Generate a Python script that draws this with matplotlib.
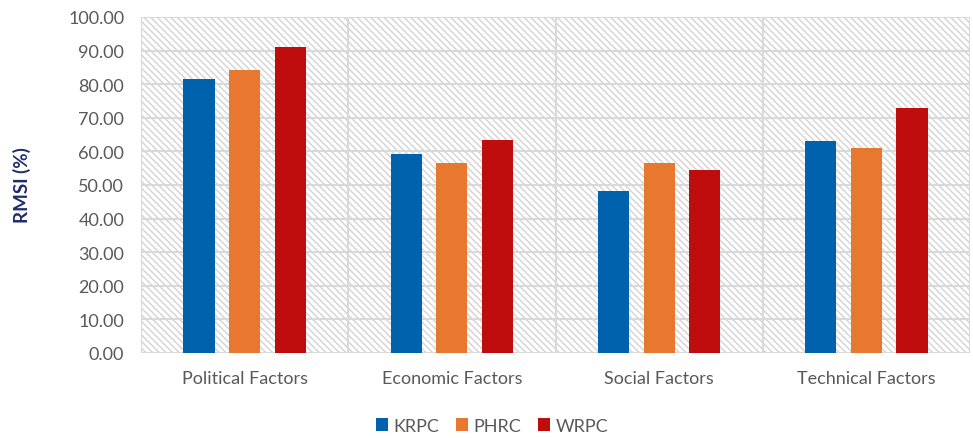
import matplotlib as mpl
mpl.use("Agg")
import matplotlib.pyplot as plt
import numpy as np
from matplotlib.patches import Rectangle

# ---- data ----
CATEGORIES = ["Political Factors", "Economic Factors", "Social Factors", "Technical Factors"]
SERIES = ["KRPC", "PHRC", "WRPC"]
KRPC = [81.5, 59.2, 48.2, 63.1]
PHRC = [84.2, 56.4, 56.5, 61.0]
WRPC = [91.1, 63.5, 54.6, 72.9]
Y_TICKS = [0, 10, 20, 30, 40, 50, 60, 70, 80, 90, 100]

# ---- style ----
COLORS = ["#0062ad", "#e87830", "#bf0d0d"]
GRID_COLOR = "#d9d9d9"
HATCH_COLOR = "#d6d6d6"
TEXT_COLOR = "#595959"
LABEL_COLOR = "#1f2d6b"
BAR_WIDTH = 0.15
BAR_STEP = 0.22
FONT = ["Lato", "DejaVu Sans"]

mpl.rcParams["font.family"] = FONT
mpl.rcParams["hatch.color"] = HATCH_COLOR
mpl.rcParams["hatch.linewidth"] = 1.1

fig = plt.figure(figsize=(9.73, 4.39), dpi=100)
ax = fig.add_axes([141 / 973, 1 - 354 / 439, 829 / 973, 336 / 439])

# hatched background of the plot area
bg = Rectangle((0, 0), 1, 1, transform=ax.transAxes, facecolor="white",
               edgecolor=HATCH_COLOR, linewidth=0, hatch="\\" * 5, zorder=0)
ax.add_patch(bg)

x = np.arange(len(CATEGORIES))
for i, (name, vals) in enumerate(zip(SERIES, [KRPC, PHRC, WRPC])):
    ax.bar(x + (i - 1) * BAR_STEP, vals, width=BAR_WIDTH, color=COLORS[i],
           label=name, zorder=3)

ax.set_xlim(-0.5, len(CATEGORIES) - 0.5)
ax.set_ylim(0, 100)
ax.set_yticks(Y_TICKS)
ax.set_yticklabels([f"{v:.2f}" for v in Y_TICKS])
ax.set_xticks(x)
ax.set_xticklabels(CATEGORIES, fontsize=13.5)

# gridlines: horizontal at ticks, vertical at category boundaries
for v in Y_TICKS:
    ax.axhline(v, color=GRID_COLOR, linewidth=1.5, zorder=1)
for b in np.arange(-0.5, len(CATEGORIES), 1.0):
    ax.axvline(b, color=GRID_COLOR, linewidth=1.5, zorder=1)

for s in ax.spines.values():
    s.set_visible(False)
ax.tick_params(axis="both", length=0, labelsize=13, colors=TEXT_COLOR)
ax.tick_params(axis="x", pad=12)
ax.tick_params(axis="y", pad=12)

fig.text(22 / 973, 1 - 185 / 439, "RMSI (%)", rotation=90, ha="center",
         va="center", fontsize=13.5, fontweight="bold", color=LABEL_COLOR)

leg = ax.legend(loc="center", bbox_to_anchor=(492 / 973, 1 - 427 / 439),
                bbox_transform=fig.transFigure, ncol=3, frameon=False,
                fontsize=13, handlelength=0.7, handleheight=0.7,
                handletextpad=0.3, columnspacing=0.9)
for t in leg.get_texts():
    t.set_color(TEXT_COLOR)

fig.savefig("out.png", dpi=100)
